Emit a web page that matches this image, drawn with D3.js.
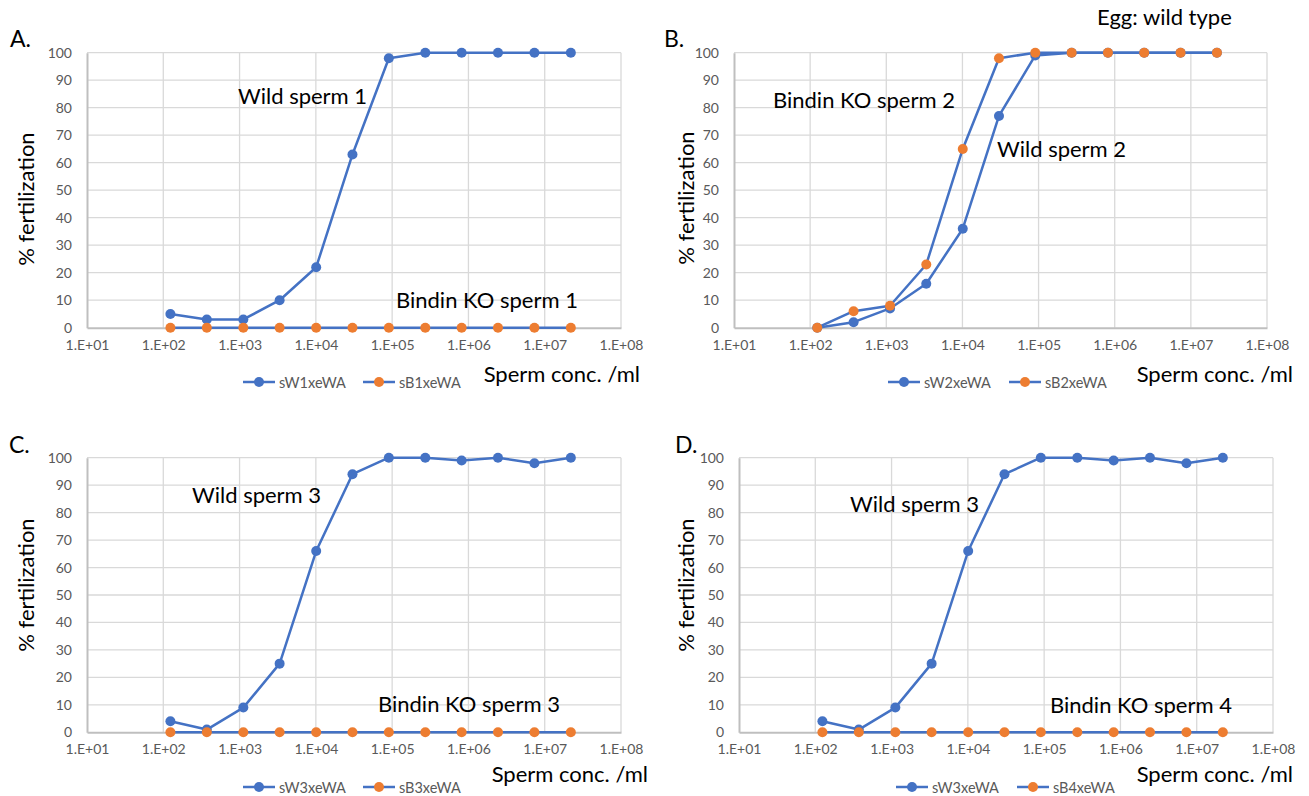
<!DOCTYPE html>
<html>
<head>
<meta charset="utf-8">
<script src="https://cdn.jsdelivr.net/npm/d3@7/dist/d3.min.js"></script>
<style>
  html, body { margin: 0; padding: 0; background: #ffffff; }
  svg { display: block; font-family: Lato, "Open Sans", sans-serif; }
</style>
</head>
<body>
<svg id="chart" width="1309" height="796"></svg>
<script>
// ---------- data ----------
const spermConc = [124, 372, 1120, 3350, 10100, 30200, 90500, 272000, 815000, 2440000, 7330000, 22000000];

const sW1xeWA = [5, 3, 3, 10, 22, 63, 98, 100, 100, 100, 100, 100];
const sB1xeWA = [0, 0, 0, 0, 0, 0, 0, 0, 0, 0, 0, 0];

const sW2xeWA = [0, 2, 7, 16, 36, 77, 99, 100, 100, 100, 100, 100];
const sB2xeWA = [0, 6, 8, 23, 65, 98, 100, 100, 100, 100, 100, 100];

const sW3xeWA = [4, 1, 9, 25, 66, 94, 100, 100, 99, 100, 98, 100];
const sB3xeWA = [0, 0, 0, 0, 0, 0, 0, 0, 0, 0, 0, 0];
const sB4xeWA = [0, 0, 0, 0, 0, 0, 0, 0, 0, 0, 0, 0];

const xTickValues = [1e1, 1e2, 1e3, 1e4, 1e5, 1e6, 1e7, 1e8];
const xTickLabels = ["1.E+01", "1.E+02", "1.E+03", "1.E+04", "1.E+05", "1.E+06", "1.E+07", "1.E+08"];
const yTickValues = [0, 10, 20, 30, 40, 50, 60, 70, 80, 90, 100];

const panelLetters = ["A.", "B.", "C.", "D."];
const wildNames = ["sW1xeWA", "sW2xeWA", "sW3xeWA", "sW3xeWA"];
const koNames = ["sB1xeWA", "sB2xeWA", "sB3xeWA", "sB4xeWA"];
const wildSeries = [sW1xeWA, sW2xeWA, sW3xeWA, sW3xeWA];
const koSeries = [sB1xeWA, sB2xeWA, sB3xeWA, sB4xeWA];
const wildLabels = ["Wild sperm 1", "Wild sperm 2", "Wild sperm 3", "Wild sperm 3"];
const koLabels = ["Bindin KO sperm 1", "Bindin KO sperm 2", "Bindin KO sperm 3", "Bindin KO sperm 4"];
const yTitle = "% fertilization";
const xTitle = "Sperm conc. /ml";
const eggNote = "Egg: wild type";

// ---------- style / layout ----------
const BLUE = "#4472C4", ORANGE = "#ED7D31";
const GRID = "#d9d9d9", AXIS = "#bfbfbf", TXT = "#595959";
const BIG = "22px", TICK = "14px", LEG = "14.5px";

const layout = [
  { l: 87,  r: 621,  t: 52.7,  b: 327.7, letter: [10, 47],  ytx: 25,  yty: 199,
    wildPos: [238, 104], koPos: [396, 308], xt: [640, 382],
    leg: [243, 382, 363] },
  { l: 734, r: 1267, t: 52.7,  b: 327.7, letter: [664, 47], ytx: 685, yty: 198,
    wildPos: [997, 157], koPos: [773, 108], xt: [1293, 382],
    leg: [888, 382, 1009] },
  { l: 87,  r: 621,  t: 457.7, b: 732.3, letter: [9, 453],  ytx: 25,  yty: 585,
    wildPos: [192, 503], koPos: [378, 712], xt: [648, 782],
    leg: [243, 787, 363] },
  { l: 739, r: 1273, t: 457.7, b: 732.3, letter: [675, 453], ytx: 685, yty: 585,
    wildPos: [850, 512], koPos: [1050, 713], xt: [1293, 782],
    leg: [896, 787, 1017] }
];

const svg = d3.select("#chart");

layout.forEach((L, i) => {
  const g = svg.append("g");
  const x = d3.scaleLog().domain([xTickValues[0], xTickValues[xTickValues.length - 1]]).range([L.l, L.r]);
  const y = d3.scaleLinear().domain([0, 100]).range([L.b, L.t]);

  // gridlines
  g.append("g").selectAll("line").data(yTickValues.slice(1)).join("line")
    .attr("x1", L.l).attr("x2", L.r).attr("y1", d => y(d)).attr("y2", d => y(d))
    .attr("stroke", GRID).attr("stroke-width", 1.3);
  g.append("g").selectAll("line").data(xTickValues.slice(1)).join("line")
    .attr("x1", d => x(d)).attr("x2", d => x(d)).attr("y1", L.t).attr("y2", L.b)
    .attr("stroke", GRID).attr("stroke-width", 1.3);

  // axes
  const yAxis = d3.axisLeft(y).tickValues(yTickValues).tickSize(0).tickPadding(15);
  const ya = g.append("g").attr("transform", `translate(${L.l},0)`).call(yAxis);
  ya.select(".domain").attr("stroke", AXIS).attr("stroke-width", 2);
  ya.selectAll("text").attr("fill", TXT).style("font-size", TICK).style("font-family", "Lato, sans-serif");

  const xAxis = d3.axisBottom(x).tickValues(xTickValues).tickSize(0).tickPadding(12)
    .tickFormat((d, k) => xTickLabels[k]);
  const xa = g.append("g").attr("transform", `translate(0,${L.b})`).call(xAxis);
  xa.select(".domain").attr("stroke", AXIS).attr("stroke-width", 2);
  xa.selectAll("text").attr("fill", TXT).style("font-size", TICK).style("font-family", "Lato, sans-serif");

  const line = d3.line().x((d, k) => x(spermConc[k])).y(d => y(d));

  // wild series
  g.append("path").datum(wildSeries[i]).attr("d", line)
    .attr("fill", "none").attr("stroke", BLUE).attr("stroke-width", 2.5).attr("stroke-linejoin", "round");
  g.append("g").selectAll("circle").data(wildSeries[i]).join("circle")
    .attr("cx", (d, k) => x(spermConc[k])).attr("cy", d => y(d)).attr("r", 5).attr("fill", BLUE);

  // KO series (blue line, orange markers)
  g.append("path").datum(koSeries[i]).attr("d", line)
    .attr("fill", "none").attr("stroke", BLUE).attr("stroke-width", 2.5).attr("stroke-linejoin", "round");
  g.append("g").selectAll("circle").data(koSeries[i]).join("circle")
    .attr("cx", (d, k) => x(spermConc[k])).attr("cy", d => y(d)).attr("r", 5).attr("fill", ORANGE);

  // panel letter
  g.append("text").attr("x", L.letter[0]).attr("y", L.letter[1]).text(panelLetters[i])
    .attr("fill", "#000").style("font-size", "23px");

  // y title
  g.append("text").attr("transform", `translate(${L.ytx},${L.yty}) rotate(-90)`)
    .attr("text-anchor", "middle").attr("dominant-baseline", "central")
    .text(yTitle).attr("fill", "#000").style("font-size", BIG);

  // x title
  g.append("text").attr("x", L.xt[0]).attr("y", L.xt[1]).attr("text-anchor", "end")
    .text(xTitle).attr("fill", "#000").style("font-size", BIG);

  // annotations
  g.append("text").attr("x", L.wildPos[0]).attr("y", L.wildPos[1])
    .text(wildLabels[i]).attr("fill", "#000").style("font-size", BIG);
  g.append("text").attr("x", L.koPos[0]).attr("y", L.koPos[1])
    .text(koLabels[i]).attr("fill", "#000").style("font-size", BIG);

  // legend
  const legItems = [
    { name: wildNames[i], color: BLUE, x0: L.leg[0] },
    { name: koNames[i], color: ORANGE, x0: L.leg[2] }
  ];
  legItems.forEach(it => {
    const ly = L.leg[1];
    g.append("line").attr("x1", it.x0).attr("x2", it.x0 + 32).attr("y1", ly).attr("y2", ly)
      .attr("stroke", BLUE).attr("stroke-width", 2.5);
    g.append("circle").attr("cx", it.x0 + 16).attr("cy", ly).attr("r", 5).attr("fill", it.color);
    g.append("text").attr("x", it.x0 + 36).attr("y", ly).attr("dominant-baseline", "central")
      .text(it.name).attr("fill", TXT).style("font-size", LEG);
  });
});

// egg note
svg.append("text").attr("x", 1097).attr("y", 25).text(eggNote)
  .attr("fill", "#000").style("font-size", BIG);
</script>
</body>
</html>
